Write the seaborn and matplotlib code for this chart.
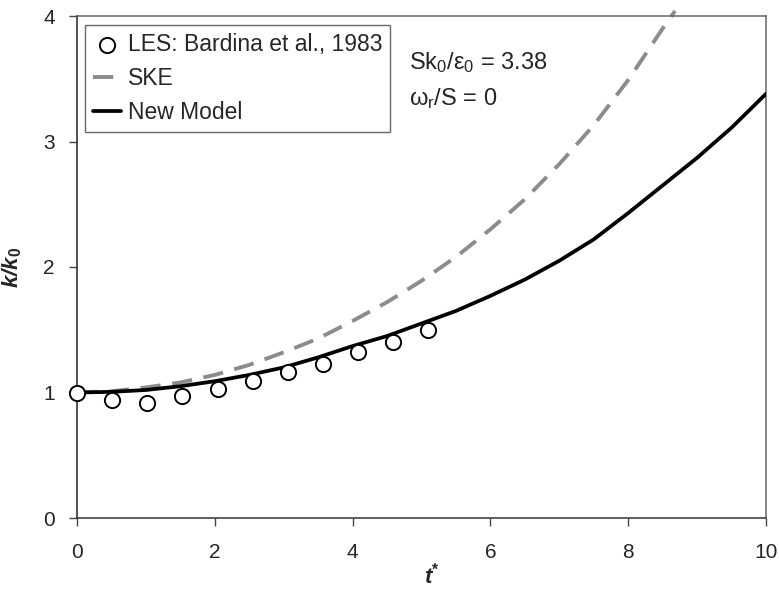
import numpy as np
import pandas as pd
import matplotlib
matplotlib.use("Agg")
import matplotlib.pyplot as plt
import seaborn as sns

# LES data (Bardina et al., 1983)
les_t = [0.0, 0.51, 1.02, 1.53, 2.04, 2.55, 3.06, 3.57, 4.08, 4.59, 5.10]
les_k = [1.00, 0.94, 0.92, 0.97, 1.03, 1.09, 1.16, 1.23, 1.32, 1.40, 1.50]

# SKE model
ske_t = [0.0, 0.5, 1.0, 1.5, 2.0, 2.5, 3.0, 3.5, 4.0, 4.5, 5.0, 5.5, 6.0, 6.5,
         7.0, 7.5, 8.0, 8.5, 8.68]
ske_k = [1.00, 1.01, 1.04, 1.08, 1.14, 1.22, 1.32, 1.43, 1.57, 1.72, 1.89, 2.08,
         2.30, 2.54, 2.82, 3.13, 3.49, 3.90, 4.04]

# New model
new_t = [0.0, 0.5, 1.0, 1.5, 2.0, 2.5, 3.0, 3.5, 4.0, 4.5, 5.0, 5.5, 6.0, 6.5,
         7.0, 7.5, 8.0, 8.5, 9.0, 9.5, 10.0]
new_k = [1.00, 1.005, 1.02, 1.05, 1.09, 1.14, 1.20, 1.28, 1.37, 1.45, 1.55, 1.65,
         1.77, 1.90, 2.05, 2.22, 2.43, 2.65, 2.87, 3.11, 3.38]

xticks = [0, 2, 4, 6, 8, 10]
yticks = [0, 1, 2, 3, 4]

sns.set_theme(style="ticks")
plt.rcParams['font.family'] = ['Liberation Sans', 'DejaVu Sans']
plt.rcParams['mathtext.fontset'] = 'custom'
plt.rcParams['mathtext.rm'] = 'Liberation Sans'
plt.rcParams['mathtext.it'] = 'Liberation Sans:italic'
plt.rcParams['mathtext.bf'] = 'Liberation Sans:bold'
plt.rcParams['mathtext.bfit'] = 'Liberation Sans:bold:italic'

fig = plt.figure(figsize=(7.79, 5.90), dpi=100)
ax = fig.add_axes([77/779, 1 - 518/590, (766-77)/779, (518-16)/590])

df_les = pd.DataFrame({"t": les_t, "k": les_k})
df_ske = pd.DataFrame({"t": ske_t, "k": ske_k})
df_new = pd.DataFrame({"t": new_t, "k": new_k})

sns.lineplot(data=df_ske, x="t", y="k", ax=ax, color="#8c8c8c", linewidth=2.8,
             label="SKE", clip_on=False, zorder=2)
ax.lines[-1].set_dashes((5.2, 3.0))
sns.lineplot(data=df_new, x="t", y="k", ax=ax, color="black", linewidth=2.7,
             label="New Model", zorder=3)
sns.scatterplot(data=df_les, x="t", y="k", ax=ax, marker="o", s=120,
                facecolor="white", edgecolor="black", linewidth=1.4,
                label="LES: Bardina et al., 1983", zorder=4, clip_on=False)

ax.set_xlim(0, 10)
ax.set_ylim(0, 4)
ax.set_xticks(xticks)
ax.set_yticks(yticks)
ax.tick_params(axis="both", labelsize=15, length=6, width=1, color="#444444",
               direction="out")
ax.tick_params(axis="x", pad=12)
ax.tick_params(axis="y", pad=10)
for s in ax.spines.values():
    s.set_color("#666666")
    s.set_linewidth(1.1)
ax.spines["left"].set_color("#222222")
ax.spines["bottom"].set_color("#333333")

ax.set_xlabel(r"$\mathbfit{t}^{\mathbf{*}}$", fontsize=16)
ax.set_ylabel(r"$\mathbfit{k/k}_{\mathbf{0}}$", fontsize=16)
ax.xaxis.set_label_coords(0.515, -0.088)
ax.yaxis.set_label_coords(-0.077, 0.5)

handles, labels = ax.get_legend_handles_labels()
order = [labels.index("LES: Bardina et al., 1983"), labels.index("SKE"),
         labels.index("New Model")]
leg = ax.legend([handles[i] for i in order], [labels[i] for i in order],
                loc="upper left", bbox_to_anchor=(0.012, 0.983), fontsize=16.5,
                frameon=True, fancybox=False, edgecolor="#444444",
                handlelength=1.2, handletextpad=0.3, borderpad=0.35,
                labelspacing=0.5, borderaxespad=0.0)
leg.get_frame().set_linewidth(1.0)

ax.text(0.482, 0.907, r"Sk$_0$/ε$_0$ = 3.38", transform=ax.transAxes,
        fontsize=17, va="center", ha="left")
ax.text(0.482, 0.836, r"ω$_\mathrm{r}$/S = 0", transform=ax.transAxes,
        fontsize=17, va="center", ha="left")

fig.savefig("out.png", dpi=100)
